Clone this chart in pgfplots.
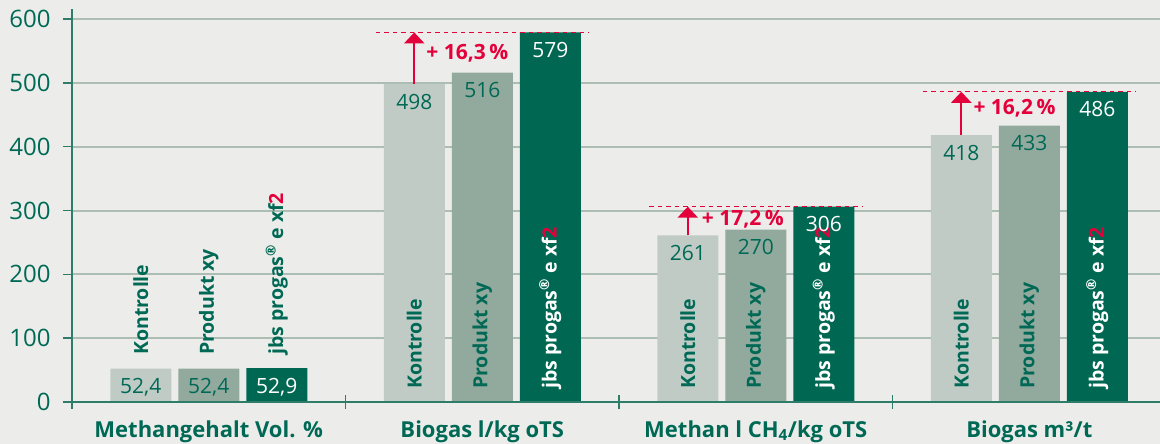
\documentclass[border=0pt]{standalone}
\usepackage{pgfplots}
\pgfplotsset{compat=1.18}
\usepackage{fontspec}
\setmainfont{Open Sans}
\usetikzlibrary{arrows.meta}
\definecolor{bg}{RGB}{236,237,234}
\definecolor{cK}{RGB}{193,203,197}
\definecolor{cP}{RGB}{146,169,157}
\definecolor{cJ}{RGB}{0,104,82}
\definecolor{tg}{RGB}{0,105,85}
\definecolor{gridc}{RGB}{172,189,179}
\definecolor{axc}{RGB}{45,125,105}
\definecolor{rd}{RGB}{228,0,58}
\newcommand{\fT}{\fontsize{24bp}{28bp}\selectfont}
\newcommand{\fV}{\fontsize{21bp}{25bp}\selectfont}
\newcommand{\fL}{\fontsize{19.5bp}{23bp}\selectfont\bfseries}
\newcommand{\fC}{\fontsize{22bp}{26bp}\selectfont\bfseries}
\newcommand{\fR}{\fontsize{21bp}{25bp}\selectfont\bfseries}
\newcommand{\jbs}{jbs progas\textsuperscript{®} e xf{\color{rd}2}}
\begin{document}
\begin{tikzpicture}
\fill[bg] (0,0) rectangle (1160bp,444bp);
\begin{axis}[
  at={(72bp,42bp)}, anchor=south west,
  scale only axis, width=1088bp, height=383bp,
  xmin=-0.5, xmax=3.478, ymin=0, ymax=600,
  /pgf/number format/assume math mode=true,
  axis line style={draw=none},
  ytick={0,100,...,600},
  yticklabel style={font=\fT, text=tg, xshift=-9bp},
  tick align=outside, major tick length=9bp,
  ytick style={axc, line width=1.5bp},
  xtick={0,1,2,3}, xticklabels={}, xtick style={draw=none},
  ymajorgrids, grid style={gridc, line width=2bp},
  ybar, bar width=61bp,
  clip=false,
  point meta=y,
  nodes near coords={\pgfmathprintnumber[assume math mode=true,use comma,fixed,precision=1]{\pgfplotspointmeta}},
  every node near coord/.append style={font=\fV, anchor=base, yshift=-25bp},
]
\addplot[fill=cK, draw=none, bar shift=-68bp, every node near coord/.append style={text=tg}]
  coordinates {(0,52.4) (1,498) (2,261) (3,418)};
\addplot[fill=cP, draw=none, bar shift=0bp, every node near coord/.append style={text=tg}]
  coordinates {(0,52.4) (1,516) (2,270) (3,433)};
\addplot[fill=cJ, draw=none, bar shift=68bp, every node near coord/.append style={text=white}]
  coordinates {(0,52.9) (1,579) (2,306) (3,486)};

% axis lines and group separators
\draw[axc, line width=1.5bp] (axis cs:-0.5,-11) -- (axis cs:-0.5,615.7);
\draw[axc, line width=1.5bp] ([xshift=-9bp]axis cs:-0.5,0) -- (axis cs:3.478,0);
\draw[axc, line width=1.5bp] ([yshift=-7bp]axis cs:0.5,0) -- ([yshift=7bp]axis cs:0.5,0);
\draw[axc, line width=1.5bp] ([yshift=-7bp]axis cs:1.5,0) -- ([yshift=7bp]axis cs:1.5,0);
\draw[axc, line width=1.5bp] ([yshift=-7bp]axis cs:2.5,0) -- ([yshift=7bp]axis cs:2.5,0);

% category labels
\node[tg, font=\fC, anchor=base] at (axis cs:0,0) [yshift=-35bp] {Methangehalt Vol. \%};
\node[tg, font=\fC, anchor=base] at (axis cs:1,0) [yshift=-35bp] {Biogas l/kg oTS};
\node[tg, font=\fC, anchor=base] at (axis cs:2,0) [yshift=-35bp] {Methan l CH\textsubscript{4}/kg oTS};
\node[tg, font=\fC, anchor=base] at (axis cs:3,0) [yshift=-35bp] {Biogas m³/t};

% rotated series labels
\node[tg, font=\fL, rotate=90, anchor=west, inner sep=0] at (axis cs:-0.2486,73.6) {Kontrolle};
\node[tg, font=\fL, rotate=90, anchor=west, inner sep=0] at (axis cs:0,73.6) {Produkt xy};
\node[tg, font=\fL, rotate=90, anchor=west, inner sep=0] at (axis cs:0.2486,73.6) {\jbs};
\node[tg, font=\fL, rotate=90, anchor=west, inner sep=0] at (axis cs:0.7514,20.4) {Kontrolle};
\node[tg, font=\fL, rotate=90, anchor=west, inner sep=0] at (axis cs:1,20.4) {Produkt xy};
\node[white, font=\fL, rotate=90, anchor=west, inner sep=0] at (axis cs:1.2486,20.4) {\jbs};
\node[tg, font=\fL, rotate=90, anchor=west, inner sep=0] at (axis cs:1.7514,20.4) {Kontrolle};
\node[tg, font=\fL, rotate=90, anchor=west, inner sep=0] at (axis cs:2,20.4) {Produkt xy};
\node[white, font=\fL, rotate=90, anchor=west, inner sep=0] at (axis cs:2.2486,20.4) {\jbs};
\node[tg, font=\fL, rotate=90, anchor=west, inner sep=0] at (axis cs:2.7514,20.4) {Kontrolle};
\node[tg, font=\fL, rotate=90, anchor=west, inner sep=0] at (axis cs:3,20.4) {Produkt xy};
\node[white, font=\fL, rotate=90, anchor=west, inner sep=0] at (axis cs:3.2486,20.4) {\jbs};

% red annotations
\draw[rd, line width=1.4bp, dash pattern=on 4.5bp off 4bp] (axis cs:0.611,579) -- (axis cs:1.389,579);
\draw[rd, line width=2.3bp, -{Triangle[width=20bp,length=11bp]}] (axis cs:0.7514,498) -- (axis cs:0.7514,579);
\node[rd, font=\fR, anchor=west, inner sep=0] at (axis cs:0.7514,546.7) [xshift=12bp] {+ 16,3\,\%};

\draw[rd, line width=1.4bp, dash pattern=on 4.5bp off 4bp] (axis cs:1.611,306) -- (axis cs:2.389,306);
\draw[rd, line width=2.3bp, -{Triangle[width=20bp,length=11bp]}] (axis cs:1.7514,261) -- (axis cs:1.7514,306);
\node[rd, font=\fR, anchor=west, inner sep=0] at (axis cs:1.7514,286.7) [xshift=14bp] {+ 17,2\,\%};

\draw[rd, line width=1.4bp, dash pattern=on 4.5bp off 4bp] (axis cs:2.611,486) -- (axis cs:3.389,486);
\draw[rd, line width=2.3bp, -{Triangle[width=20bp,length=11bp]}] (axis cs:2.7514,418) -- (axis cs:2.7514,486);
\node[rd, font=\fR, anchor=west, inner sep=0] at (axis cs:2.7514,460.6) [xshift=12bp] {+ 16,2\,\%};
\end{axis}
\pgfresetboundingbox
\useasboundingbox (0,0) rectangle (1160bp,444bp);
\end{tikzpicture}
\end{document}
